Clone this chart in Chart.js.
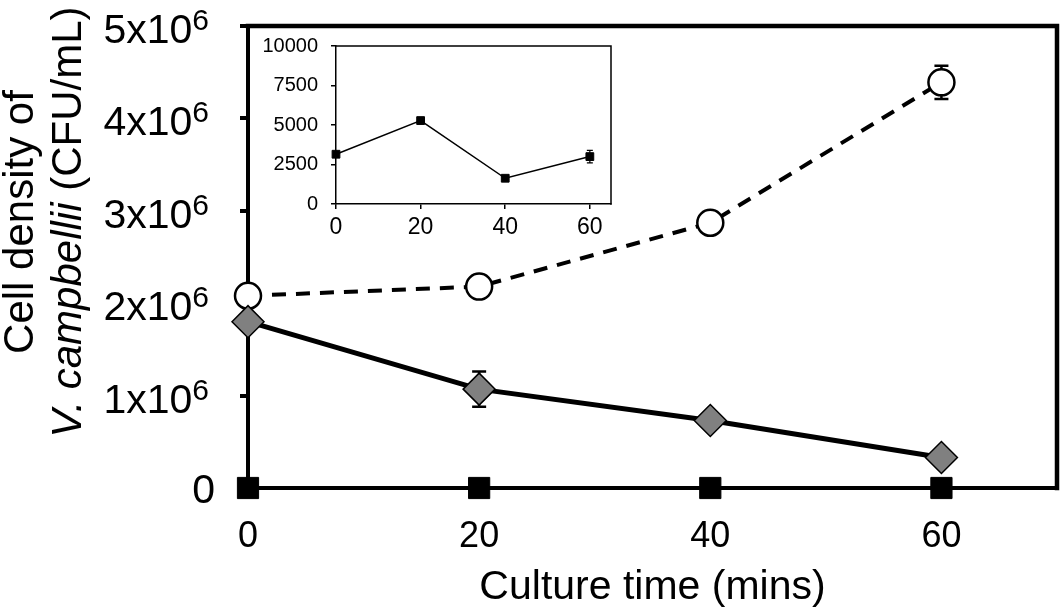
<!DOCTYPE html>
<html>
<head>
<meta charset="utf-8">
<script src="https://cdn.jsdelivr.net/npm/chart.js@4.4.1/dist/chart.umd.min.js"></script>
<style>
  html, body { margin: 0; padding: 0; background: #fff; }
  #wrap { position: relative; width: 1064px; height: 609px; }
  #main { position: absolute; left: 0; top: 0; }
  #inset { position: absolute; left: 250px; top: 30px; }
</style>
</head>
<body>
<div id="wrap">
  <canvas id="main" width="1064" height="609"></canvas>
  <canvas id="inset" width="375" height="220"></canvas>
</div>
<script>
// culture time (mins)
const times = [0, 20, 40, 60];
const xTicks = [0, 20, 40, 60];

// main panel, cells/mL
const openCircles = [2.08e6, 2.18e6, 2.87e6, 4.39e6];
const openCirclesErr = [0, 0, 0, 0.18e6];
const greyDiamonds = [1.80e6, 1.07e6, 0.73e6, 0.33e6];
const greyDiamondsErr = [0, 0.19e6, 0, 0];
const blackSquares = [0, 0, 0, 0];
const yTickMantissa = [0, 1, 2, 3, 4, 5];

// inset panel
const insetSquares = [3150, 5280, 1630, 3000];
const insetSquaresErr = [0, 0, 0, 400];
const insetYTicks = [0, 2500, 5000, 7500, 10000];

const FONT = 'Liberation Sans, Arial, sans-serif';

function toPoints(vals) {
  return vals.map((v, i) => ({ x: times[i], y: v }));
}

// error bars, drawn under the markers
function errorBars(cap, width) {
  return {
    id: 'errorBars',
    beforeDatasetsDraw(chart) {
      const { ctx, scales: { x, y } } = chart;
      ctx.save();
      ctx.strokeStyle = '#000';
      ctx.lineWidth = width;
      chart.data.datasets.forEach((ds) => {
        if (!ds.errors) return;
        ds.errors.forEach((e, i) => {
          if (!e) return;
          const px = x.getPixelForValue(ds.data[i].x);
          const top = y.getPixelForValue(ds.data[i].y + e);
          const bot = y.getPixelForValue(ds.data[i].y - e);
          ctx.beginPath();
          ctx.moveTo(px, top); ctx.lineTo(px, bot);
          ctx.moveTo(px - cap, top); ctx.lineTo(px + cap, top);
          ctx.moveTo(px - cap, bot); ctx.lineTo(px + cap, bot);
          ctx.stroke();
        });
      });
      ctx.restore();
    },
  };
}

function frame(width) {
  return {
    id: 'frame',
    afterDraw(chart) {
      const { ctx, chartArea: a } = chart;
      ctx.save();
      ctx.strokeStyle = '#000';
      ctx.lineWidth = width;
      ctx.lineCap = 'square';
      ctx.beginPath();
      ctx.moveTo(a.left, a.top);
      ctx.lineTo(a.right, a.top);
      ctx.lineTo(a.right, a.bottom);
      ctx.stroke();
      ctx.restore();
    },
  };
}

// y tick labels with superscript and two-line y title
const mainText = {
  id: 'mainText',
  afterDraw(chart) {
    const { ctx } = chart;
    const y = chart.scales.y;
    ctx.save();
    ctx.fillStyle = '#000';
    ctx.textBaseline = 'alphabetic';
    const right = 209;
    yTickMantissa.forEach((m) => {
      const py = y.getPixelForValue(m * 1e6);
      if (m === 0) {
        ctx.font = '41px ' + FONT;
        ctx.textAlign = 'right';
        ctx.fillText('0', 215, py + 15);
        return;
      }
      ctx.font = '30px ' + FONT;
      const supW = ctx.measureText('6').width;
      ctx.textAlign = 'left';
      ctx.fillText('6', right - supW, py + 4);
      ctx.font = '41px ' + FONT;
      ctx.textAlign = 'right';
      ctx.fillText(m + 'x10', right - supW, py + 17);
    });

    // y title
    const cy = 222;
    ctx.save();
    ctx.translate(33, cy);
    ctx.rotate(-Math.PI / 2);
    ctx.font = '42px ' + FONT;
    ctx.textAlign = 'center';
    ctx.fillText('Cell density of', 0, 0);
    ctx.restore();

    ctx.save();
    ctx.translate(81, cy);
    ctx.rotate(-Math.PI / 2);
    const ital = 'italic 42px ' + FONT;
    const norm = '42px ' + FONT;
    const p1 = 'V. campbellii';
    const p2 = ' (CFU/mL)';
    ctx.font = ital;
    const w1 = ctx.measureText(p1).width;
    ctx.font = norm;
    const w2 = ctx.measureText(p2).width;
    const start = -(w1 + w2) / 2;
    ctx.textAlign = 'left';
    ctx.font = ital;
    ctx.fillText(p1, start, 0);
    ctx.font = norm;
    ctx.fillText(p2, start + w1, 0);
    ctx.restore();
    ctx.restore();
  },
};

new Chart(document.getElementById('main'), {
  type: 'line',
  data: {
    datasets: [
      {
        label: 'squares',
        data: toPoints(blackSquares),
        borderColor: '#000',
        borderWidth: 4,
        pointStyle: 'rect',
        pointRadius: 15,
        pointBackgroundColor: '#000',
        pointBorderColor: '#000',
        pointBorderWidth: 1,
        clip: false,
      },
      {
        label: 'diamonds',
        data: toPoints(greyDiamonds),
        errors: greyDiamondsErr,
        borderColor: '#000',
        borderWidth: 5,
        pointStyle: 'rectRot',
        pointRadius: 16,
        pointBackgroundColor: '#808080',
        pointBorderColor: '#000',
        pointBorderWidth: 1.5,
        clip: false,
      },
      {
        label: 'circles',
        data: toPoints(openCircles),
        errors: openCirclesErr,
        borderColor: '#000',
        borderWidth: 4,
        borderDash: [14, 10],
        pointStyle: 'circle',
        pointRadius: 13,
        pointBackgroundColor: '#fff',
        pointBorderColor: '#000',
        pointBorderWidth: 2.5,
        clip: false,
      },
    ],
  },
  options: {
    responsive: false,
    animation: false,
    devicePixelRatio: 1,
    layout: { autoPadding: false, padding: { left: 0, right: 7, top: 26, bottom: 0 } },
    plugins: { legend: { display: false }, tooltip: { enabled: false } },
    scales: {
      x: {
        type: 'linear',
        min: 0,
        max: 70,
        afterBuildTicks: (s) => { s.ticks = xTicks.map((v) => ({ value: v })); },
        afterFit: (s) => { s.height = 121; s.paddingRight = 0; s.paddingLeft = 0; },
        grid: { display: false },
        border: { display: true, color: '#000', width: 4 },
        ticks: { color: '#000', font: { family: FONT, size: 36 }, padding: 19, maxRotation: 0 },
        title: {
          display: true,
          text: 'Culture time (mins)',
          color: '#000',
          font: { family: FONT, size: 41, lineHeight: 1 },
          padding: { top: 0, bottom: 1 },
        },
      },
      y: {
        type: 'linear',
        min: 0,
        max: 5e6,
        afterBuildTicks: (s) => { s.ticks = yTickMantissa.map((m) => ({ value: m * 1e6 })); },
        afterFit: (s) => { s.width = 248; s.paddingTop = 0; s.paddingBottom = 0; },
        grid: { display: true, drawOnChartArea: false, drawTicks: true, tickLength: 8, lineWidth: 4, color: '#000' },
        border: { display: true, color: '#000', width: 4 },
        ticks: { display: false },
      },
    },
  },
  plugins: [errorBars(7, 2.5), frame(4.5), mainText],
});

new Chart(document.getElementById('inset'), {
  type: 'line',
  data: {
    datasets: [
      {
        label: 'inset',
        data: toPoints(insetSquares),
        errors: insetSquaresErr,
        borderColor: '#000',
        borderWidth: 1.5,
        pointStyle: 'rect',
        pointRadius: 5.5,
        pointBackgroundColor: '#000',
        pointBorderColor: '#000',
        pointBorderWidth: 1,
        clip: false,
      },
    ],
  },
  options: {
    responsive: false,
    animation: false,
    devicePixelRatio: 1,
    layout: { autoPadding: false, padding: { left: 0, right: 14, top: 16, bottom: 0 } },
    plugins: { legend: { display: false }, tooltip: { enabled: false } },
    scales: {
      x: {
        type: 'linear',
        min: 0,
        max: 65,
        afterBuildTicks: (s) => { s.ticks = xTicks.map((v) => ({ value: v })); },
        afterFit: (s) => { s.height = 46; s.paddingRight = 0; s.paddingLeft = 0; },
        grid: { display: true, drawOnChartArea: false, tickLength: 5, lineWidth: 1.5, color: '#000' },
        border: { display: true, color: '#000', width: 1.5 },
        ticks: { color: '#000', font: { family: FONT, size: 23 }, padding: 5, maxRotation: 0 },
      },
      y: {
        type: 'linear',
        min: 0,
        max: 10000,
        afterBuildTicks: (s) => { s.ticks = insetYTicks.map((v) => ({ value: v })); },
        afterFit: (s) => { s.width = 86; s.paddingTop = 0; s.paddingBottom = 0; },
        grid: { display: true, drawOnChartArea: false, tickLength: 5, lineWidth: 1.5, color: '#000' },
        border: { display: true, color: '#000', width: 1.5 },
        ticks: { color: '#000', font: { family: FONT, size: 20 }, padding: 13, callback: (v) => String(v) },
      },
    },
  },
  plugins: [errorBars(3, 1.2), frame(1.5)],
});
</script>
</body>
</html>
